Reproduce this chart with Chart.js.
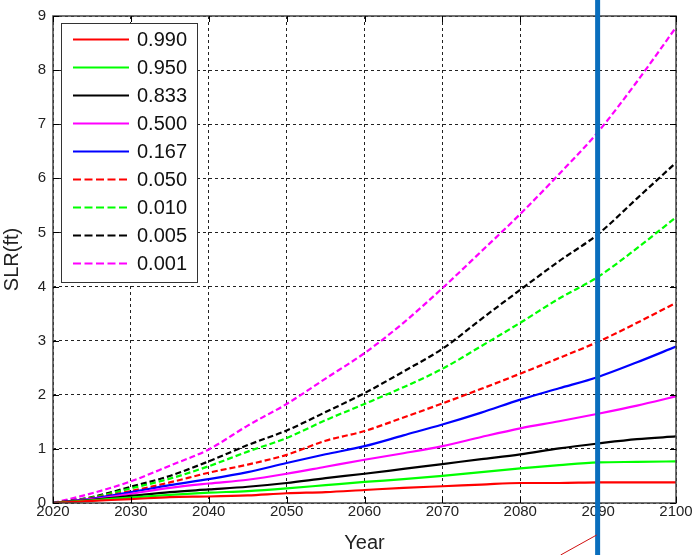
<!DOCTYPE html>
<html>
<head>
<meta charset="utf-8">
<script src="https://cdn.jsdelivr.net/npm/chart.js@4"></script>
<style>
  body { margin: 0; background: #fff; }
  #slr { display: block; }
</style>
</head>
<body>
<canvas id="slr" width="693" height="555"></canvas>
<script>
// years on the x axis, every 5 years
var years = [2020, 2025, 2030, 2035, 2040, 2045, 2050, 2055, 2060, 2065, 2070, 2075, 2080, 2085, 2090, 2095, 2100];

// SLR (ft) per exceedance probability
var p990 = [0, 0.04, 0.07, 0.11, 0.12, 0.14, 0.18, 0.20, 0.24, 0.28, 0.31, 0.34, 0.37, 0.37, 0.38, 0.38, 0.38];
var p950 = [0, 0.05, 0.10, 0.15, 0.19, 0.22, 0.27, 0.33, 0.39, 0.44, 0.50, 0.57, 0.64, 0.70, 0.75, 0.76, 0.77];
var p833 = [0, 0.06, 0.13, 0.20, 0.25, 0.30, 0.37, 0.46, 0.54, 0.63, 0.72, 0.81, 0.90, 1.01, 1.10, 1.18, 1.23];
var p500 = [0, 0.07, 0.17, 0.28, 0.36, 0.43, 0.54, 0.67, 0.80, 0.92, 1.05, 1.22, 1.38, 1.51, 1.65, 1.80, 1.97];
var p167 = [0, 0.08, 0.20, 0.33, 0.44, 0.57, 0.74, 0.90, 1.05, 1.25, 1.45, 1.67, 1.91, 2.12, 2.33, 2.60, 2.89];
var p050 = [0, 0.09, 0.22, 0.38, 0.56, 0.71, 0.89, 1.15, 1.33, 1.58, 1.84, 2.11, 2.39, 2.68, 2.98, 3.33, 3.70];
var p010 = [0, 0.10, 0.27, 0.45, 0.68, 0.95, 1.20, 1.53, 1.83, 2.14, 2.48, 2.90, 3.33, 3.78, 4.18, 4.71, 5.28];
var p005 = [0, 0.11, 0.30, 0.50, 0.77, 1.07, 1.34, 1.68, 2.03, 2.43, 2.85, 3.40, 3.94, 4.47, 4.97, 5.63, 6.29];
var p001 = [0, 0.18, 0.40, 0.69, 0.99, 1.43, 1.83, 2.30, 2.77, 3.33, 3.97, 4.65, 5.34, 6.08, 6.86, 7.79, 8.79];

var seriesNames = ['0.990', '0.950', '0.833', '0.500', '0.167', '0.050', '0.010', '0.005', '0.001'];
var seriesValues = [p990, p950, p833, p500, p167, p050, p010, p005, p001];
var seriesColors = ['#ff0000', '#00ff00', '#000000', '#ff00ff', '#0000ff', '#ff0000', '#00ff00', '#000000', '#ff00ff'];
var seriesDashed = [false, false, false, false, false, true, true, true, true];

var xTicks = [2020, 2030, 2040, 2050, 2060, 2070, 2080, 2090, 2100];
var yTicks = [0, 1, 2, 3, 4, 5, 6, 7, 8, 9];
var markYear = 2090;

var datasets = seriesNames.map(function (name, i) {
    return {
        label: name,
        data: years.map(function (yr, j) { return { x: yr, y: seriesValues[i][j] }; }),
        borderColor: seriesColors[i],
        backgroundColor: seriesColors[i],
        borderWidth: 2.2,
        borderDash: seriesDashed[i] ? [6, 3] : [],
        pointRadius: 0,
        cubicInterpolationMode: 'monotone',
        fill: false
    };
});

// MATLAB-ish frame, inner ticks, legend box, and the blue marker line
var decor = {
    id: 'decor',
    afterDatasetsDraw: function (chart) {
        var ctx = chart.ctx, a = chart.chartArea;
        var xs = chart.scales.x, ys = chart.scales.y;
        ctx.save();
        // frame
        ctx.strokeStyle = '#444';
        ctx.lineWidth = 1.5;
        ctx.setLineDash([]);
        ctx.strokeRect(a.left, a.top, a.right - a.left, a.bottom - a.top);
        // inner ticks
        ctx.lineWidth = 1;
        ctx.strokeStyle = '#000';
        ctx.beginPath();
        xTicks.forEach(function (t) {
            var px = Math.round(xs.getPixelForValue(t)) + 0.5;
            ctx.moveTo(px, a.bottom); ctx.lineTo(px, a.bottom - 6);
            ctx.moveTo(px, a.top); ctx.lineTo(px, a.top + 6);
        });
        yTicks.forEach(function (t) {
            var py = Math.round(ys.getPixelForValue(t)) + 0.5;
            ctx.moveTo(a.left, py); ctx.lineTo(a.left + 6, py);
            ctx.moveTo(a.right, py); ctx.lineTo(a.right - 6, py);
        });
        ctx.stroke();

        // legend
        var bx = 61, by = 23, bw = 136, bh = 259;
        ctx.fillStyle = '#fff';
        ctx.fillRect(bx, by, bw, bh);
        ctx.strokeStyle = '#333';
        ctx.lineWidth = 1;
        ctx.strokeRect(bx + 0.5, by + 0.5, bw, bh);
        ctx.font = '20px "Liberation Sans", Arial, sans-serif';
        ctx.textBaseline = 'middle';
        ctx.textAlign = 'left';
        chart.data.datasets.forEach(function (ds, i) {
            var ly = by + 16.5 + i * 28;
            ctx.strokeStyle = ds.borderColor;
            ctx.lineWidth = 2.2;
            ctx.setLineDash(ds.borderDash.length ? [8, 3.5] : []);
            ctx.beginPath();
            ctx.moveTo(bx + 12, ly); ctx.lineTo(bx + 68, ly);
            ctx.stroke();
            ctx.setLineDash([]);
            ctx.fillStyle = '#111';
            ctx.fillText(ds.label, bx + 76, ly + 1);
        });

        // blue vertical marker through the whole picture
        var mx = xs.getPixelForValue(markYear) - 0.5;
        ctx.strokeStyle = '#0a6ebd';
        ctx.lineWidth = 5;
        ctx.beginPath();
        ctx.moveTo(mx, 0); ctx.lineTo(mx, chart.height);
        ctx.stroke();
        // thin red pointer
        ctx.strokeStyle = '#d01010';
        ctx.lineWidth = 1;
        ctx.beginPath();
        ctx.moveTo(mx - 37, chart.height); ctx.lineTo(mx - 1, chart.height - 20);
        ctx.stroke();
        ctx.restore();
    }
};

var tickFont = { family: '"Liberation Sans", Arial, sans-serif', size: 15 };
var titleFont = { family: '"Liberation Sans", Arial, sans-serif', size: 20 };

var ctx = document.getElementById('slr').getContext('2d');
var slrChart = new Chart(ctx, {
    type: 'line',
    data: { datasets: datasets },
    plugins: [decor],
    options: {
        responsive: false,
        animation: false,
        devicePixelRatio: 1,
        layout: { padding: { top: 13, right: 17, left: 0, bottom: 0 } },
        scales: {
            x: {
                type: 'linear',
                min: 2020,
                max: 2100,
                afterBuildTicks: function (scale) {
                    scale.ticks = xTicks.map(function (v) { return { value: v }; });
                },
                afterFit: function (scale) { scale.height = 52; },
                ticks: {
                    color: '#222',
                    font: tickFont,
                    padding: 0,
                    maxRotation: 0,
                    callback: function (v) { return String(v); }
                },
                grid: { color: '#222', lineWidth: 1, drawTicks: false },
                border: { display: false, dash: [3, 3] },
                title: { display: true, text: 'Year', color: '#222', font: titleFont, padding: { top: 4, bottom: 0 } }
            },
            y: {
                min: 0,
                max: 9,
                afterBuildTicks: function (scale) {
                    scale.ticks = yTicks.map(function (v) { return { value: v }; });
                },
                afterFit: function (scale) { scale.width = 53; },
                ticks: { color: '#222', font: tickFont, padding: 7 },
                grid: { color: '#222', lineWidth: 1, drawTicks: false },
                border: { display: false, dash: [3, 3] },
                title: { display: true, text: 'SLR(ft)', color: '#222', font: titleFont, padding: 0 }
            }
        },
        plugins: {
            legend: { display: false },
            tooltip: { enabled: false }
        }
    }
});
</script>
</body>
</html>
